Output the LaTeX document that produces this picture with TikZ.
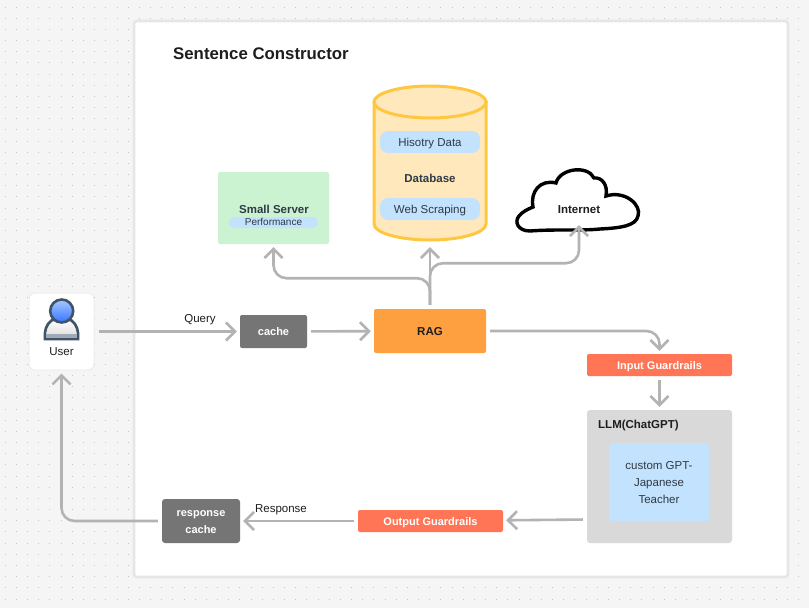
\documentclass[tikz,border=0pt]{standalone}
\usepackage{fontspec}
\setsansfont{Liberation Sans}
\usetikzlibrary{arrows.meta}
\definecolor{pagegray}{HTML}{F5F5F5}
\definecolor{panelline}{HTML}{E6E6E6}
\definecolor{griddot}{HTML}{C4C4C4}
\definecolor{flowgray}{HTML}{B3B3B3}
\definecolor{cachegray}{HTML}{757575}
\definecolor{ragorange}{HTML}{FFA040}
\definecolor{guardred}{HTML}{FF7555}
\definecolor{llmgray}{HTML}{D9D9D9}
\definecolor{pillblue}{HTML}{C2E2FD}
\definecolor{servergreen}{HTML}{CCF3D1}
\definecolor{dbfill}{HTML}{FFE8BC}
\definecolor{dbline}{HTML}{FFC740}
\definecolor{inkdark}{HTML}{1E1E1E}
\definecolor{inkslate}{HTML}{2F3A45}
\definecolor{userline}{HTML}{3F5468}
\definecolor{headtop}{HTML}{A8C8FF}
\definecolor{headbottom}{HTML}{3575FF}
\tikzset{
  every node/.style={font=\sffamily\fontsize{11.5}{17}\selectfont,text=inkdark,inner sep=0pt,align=center},
  line cap=round,line join=round,
  oneline/.style={text height=10pt,text depth=2pt},
  boldlabel/.style={oneline,font=\sffamily\bfseries\fontsize{11.5}{17}\selectfont},
  flow/.style={draw=flowgray,line width=2.6pt,rounded corners=13pt,
    -{Straight Barb[length=9pt,width=18pt,line width=2.6pt]},shorten >=3pt,shorten <=4pt},
  blockbox/.style={boldlabel,rounded corners=2pt},
  whitebox/.style={blockbox,text=white,font=\sffamily\bfseries\fontsize{11}{17}\selectfont},
  pill/.style={oneline,fill=pillblue,rounded corners=8pt,minimum width=100pt,minimum height=22pt,text=inkslate}
}
\begin{document}
\begin{tikzpicture}[x=1pt,y=-1pt]
  \path[use as bounding box,fill=pagegray] (0,0) rectangle (809,608);
  % dotted canvas
  \foreach \i in {0,...,71}
    \foreach \j in {0,...,53}
      \fill[griddot] ({5.3+11.17*\i-0.5},{7+11.17*\j-0.5}) rectangle ++(1,1);
  \draw[draw=panelline,line width=2.6pt,fill=white,rounded corners=3pt] (134,21) rectangle (788,577);
  \node[anchor=west,oneline,font=\sffamily\bfseries\fontsize{16.8}{18}\selectfont] (title) at (173,55) {Sentence Constructor};

  % user
  \node[fill=white,draw=panelline!70,line width=1pt,rounded corners=6pt,minimum width=65pt,minimum height=77pt] (user) at (61.5,331.5) {};
  \draw[draw=userline,line width=2.6pt,top color=white,bottom color=llmgray]
    (45,339) .. controls (44,332) and (46,324) .. (52,320) -- (71,320) .. controls (77,324) and (79,332) .. (78,339) -- cycle;
  \fill[userline!50] (46.2,334) rectangle (76.8,337.7);
  \draw[draw=userline,line width=2.6pt,top color=headtop,bottom color=headbottom] (61.7,311) circle (11.5);
  \node[oneline] (userlabel) at (61.5,351.5) {User};

  % top row
  \node[fill=servergreen,rounded corners=2pt,minimum width=111pt,minimum height=72pt] (server) at (273.5,208) {};
  \node[boldlabel,text=inkslate] (serverlabel) at (274,209) {Small Server};
  \node[pill,minimum width=89pt,minimum height=11pt,rounded corners=5pt,font=\sffamily\fontsize{10}{11}\selectfont,text height=8pt,text depth=2pt] (perf) at (273.5,222.5) {Performance};

  \node[minimum width=112pt,minimum height=154pt] (dbase) at (430,163) {};
  \draw[draw=dbline,line width=3pt,fill=dbfill]
    (374,102) -- (374,224) arc[start angle=180,end angle=360,x radius=56,y radius=-16] -- (486,102) -- cycle;
  \draw[draw=dbline,line width=3pt,fill=dbfill] (430,102) ellipse[x radius=56,y radius=16];
  \node[pill] (history) at (430,142) {Hisotry Data};
  \node[boldlabel,text=inkslate] (dblabel) at (430,178) {Database};
  \node[pill] (scraping) at (430,209) {Web Scraping};

  \draw[line width=3.4pt,fill=white]
    (530,231) .. controls (518,231) and (514,222) .. (519,216)
    .. controls (522,212) and (528,209) .. (533,207)
    .. controls (530,192) and (540,179) .. (556,183)
    .. controls (560,168) and (588,165) .. (594,178)
    .. controls (602,177) and (608,185) .. (606,196)
    .. controls (625,190) and (642,205) .. (638,216)
    .. controls (636,226) and (620,228) .. (600,229)
    .. controls (580,231) and (555,229) .. (530,231) -- cycle;
  \node[boldlabel,minimum width=122pt,minimum height=26pt] (net) at (579,209) {Internet};

  % middle row
  \node[whitebox,fill=cachegray,minimum width=67pt,minimum height=33pt] (cache) at (273.5,331.5) {cache};
  \node[blockbox,fill=ragorange,minimum width=112pt,minimum height=44pt] (rag) at (430,331) {RAG};
  \node[whitebox,fill=guardred,minimum width=145pt,minimum height=22pt] (inguard) at (659.5,365) {Input Guardrails};
  \node[oneline] (querylabel) at (200,318) {Query};

  % LLM block
  \node[fill=llmgray,rounded corners=3pt,minimum width=145pt,minimum height=133pt] (llm) at (659.5,476.5) {};
  \node[boldlabel,anchor=west] (llmlabel) at (598,424) {LLM(ChatGPT)};
  \node[fill=pillblue,rounded corners=2pt,minimum width=100pt,minimum height=78pt] (gpt) at (659,482) {};
  \node[text=inkslate] (gptlabel) at (659,483) {custom GPT-\\Japanese\\Teacher};

  % bottom row
  \node[whitebox,fill=guardred,minimum width=145pt,minimum height=22pt] (outguard) at (430.5,521) {Output Guardrails};
  \node[fill=cachegray,rounded corners=3pt,minimum width=78pt,minimum height=44pt] (respcache) at (201,521) {};
  \node[text=white,font=\sffamily\bfseries\fontsize{11}{17}\selectfont] (resplabel) at (201,522) {response\\cache};
  \node[oneline] (responselabel) at (281,508) {Response};

  % connectors
  \draw[flow] (user) -- (cache);
  \draw[flow] (cache) -- (rag);
  \draw[flow] (rag.north) |- ([yshift=-34pt]server.south) -- (server.south);
  \draw[flow,shorten >=7pt] (rag.north) -- (dbase.south);
  \draw[flow] (rag.north) |- ([yshift=-41pt]net.south) -- (net.south);
  \draw[flow] (rag) -- (rag -| inguard) -- (inguard.north);
  \draw[flow] (inguard) -- (llm);
  \draw[flow] ([yshift=1.5pt]llm.west |- outguard) -- (outguard);
  \draw[flow] (outguard) -- (respcache);
  \draw[flow] (respcache) -| (user);
\end{tikzpicture}
\end{document}
